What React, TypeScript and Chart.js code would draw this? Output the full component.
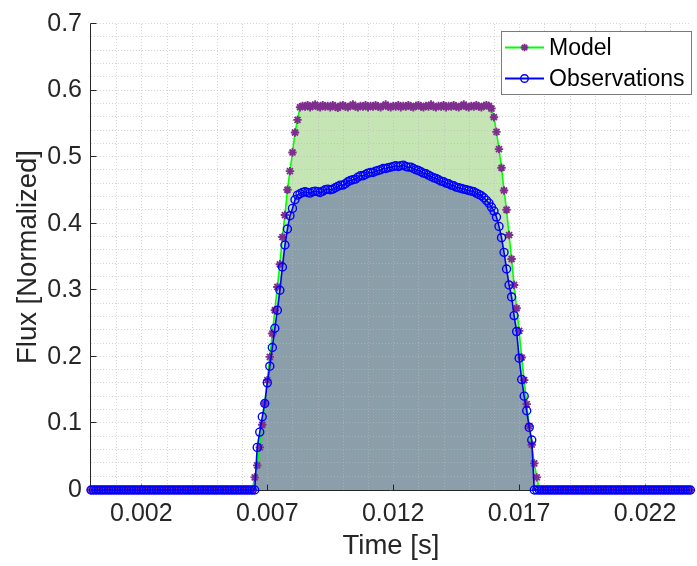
import React, { useEffect, useRef } from "react";
import { Chart, registerables } from "chart.js";

Chart.register(...registerables);

// ---------------- data ----------------
// Samples are uniformly spaced in time, starting at 0 s.
const TIME_STEP_S = 0.0001;

const seriesLabels = ["Model", "Observations"];

// Model flux, one value per 0.1 ms sample (0.0000 s … 0.0238 s)
const modelFlux: number[] = [
  // 0.0000 – 0.0064 s
  0, 0, 0, 0, 0, 0, 0, 0, 0, 0,
  0, 0, 0, 0, 0, 0, 0, 0, 0, 0,
  0, 0, 0, 0, 0, 0, 0, 0, 0, 0,
  0, 0, 0, 0, 0, 0, 0, 0, 0, 0,
  0, 0, 0, 0, 0, 0, 0, 0, 0, 0,
  0, 0, 0, 0, 0, 0, 0, 0, 0, 0,
  0, 0, 0, 0, 0,
  // rise 0.0065 – 0.0082 s
  0.019, 0.037, 0.064, 0.098, 0.130, 0.165, 0.200, 0.235, 0.270, 0.305,
  0.339, 0.380, 0.413, 0.451, 0.479, 0.507, 0.537, 0.556,
  // plateau 0.0083 – 0.0158 s
  0.575, 0.577, 0.576, 0.578, 0.575, 0.577, 0.579, 0.576, 0.575, 0.578,
  0.576, 0.577, 0.575, 0.578, 0.576, 0.574, 0.577, 0.578, 0.576, 0.575,
  0.577, 0.579, 0.576, 0.575, 0.577, 0.576, 0.578, 0.575, 0.577, 0.576,
  0.578, 0.576, 0.575, 0.577, 0.579, 0.576, 0.575, 0.577, 0.576, 0.578,
  0.575, 0.577, 0.576, 0.578, 0.576, 0.575, 0.577, 0.578, 0.576, 0.575,
  0.577, 0.576, 0.579, 0.576, 0.575, 0.577, 0.576, 0.578, 0.575, 0.577,
  0.576, 0.578, 0.576, 0.575, 0.577, 0.579, 0.576, 0.575, 0.577, 0.576,
  0.578, 0.576, 0.575, 0.577, 0.578, 0.577,
  // fall 0.0159 – 0.0177 s
  0.573, 0.560, 0.538, 0.512, 0.484, 0.450, 0.421, 0.383, 0.347, 0.308,
  0.273, 0.239, 0.199, 0.165, 0.129, 0.096, 0.068, 0.040, 0.019,
  // 0.0178 – 0.0238 s
  0, 0, 0, 0, 0, 0, 0, 0, 0, 0,
  0, 0, 0, 0, 0, 0, 0, 0, 0, 0,
  0, 0, 0, 0, 0, 0, 0, 0, 0, 0,
  0, 0, 0, 0, 0, 0, 0, 0, 0, 0,
  0, 0, 0, 0, 0, 0, 0, 0, 0, 0,
  0, 0, 0, 0, 0, 0, 0, 0, 0, 0,
  0,
];

// Observed flux, one value per 0.1 ms sample (0.0000 s … 0.0238 s)
const observedFlux: number[] = [
  // 0.0000 – 0.0065 s
  0, 0, 0, 0, 0, 0, 0, 0, 0, 0,
  0, 0, 0, 0, 0, 0, 0, 0, 0, 0,
  0, 0, 0, 0, 0, 0, 0, 0, 0, 0,
  0, 0, 0, 0, 0, 0, 0, 0, 0, 0,
  0, 0, 0, 0, 0, 0, 0, 0, 0, 0,
  0, 0, 0, 0, 0, 0, 0, 0, 0, 0,
  0, 0, 0, 0, 0, 0,
  // rise 0.0066 – 0.0082 s
  0.064, 0.087, 0.110, 0.130, 0.161, 0.186, 0.214, 0.243, 0.270, 0.300,
  0.335, 0.368, 0.392, 0.412, 0.423, 0.436, 0.443,
  // top 0.0083 – 0.0155 s
  0.445, 0.447, 0.448, 0.447, 0.446, 0.448, 0.449, 0.448, 0.447, 0.449,
  0.451, 0.452, 0.451, 0.452, 0.454, 0.456, 0.458, 0.458, 0.460, 0.463,
  0.465, 0.466, 0.467, 0.470, 0.472, 0.472, 0.474, 0.476, 0.477, 0.477,
  0.479, 0.480, 0.481, 0.483, 0.483, 0.484, 0.485, 0.486, 0.487, 0.486,
  0.487, 0.488, 0.486, 0.485, 0.485, 0.483, 0.481, 0.480, 0.478, 0.476,
  0.475, 0.473, 0.471, 0.469, 0.468, 0.466, 0.464, 0.463, 0.461, 0.460,
  0.458, 0.457, 0.455, 0.454, 0.453, 0.452, 0.451, 0.450, 0.449, 0.448,
  0.446, 0.444, 0.442,
  // fall 0.0156 – 0.0175 s
  0.439, 0.435, 0.431, 0.425, 0.419, 0.410, 0.396, 0.379, 0.357, 0.332,
  0.308, 0.290, 0.262, 0.238, 0.198, 0.166, 0.141, 0.119, 0.094, 0.075,
  // 0.0176 – 0.0238 s
  0, 0, 0, 0, 0, 0, 0, 0, 0, 0,
  0, 0, 0, 0, 0, 0, 0, 0, 0, 0,
  0, 0, 0, 0, 0, 0, 0, 0, 0, 0,
  0, 0, 0, 0, 0, 0, 0, 0, 0, 0,
  0, 0, 0, 0, 0, 0, 0, 0, 0, 0,
  0, 0, 0, 0, 0, 0, 0, 0, 0, 0,
  0, 0, 0,
];

const xMajorTicks = [0.002, 0.007, 0.012, 0.017, 0.022];
const xTickLabels = ["0.002", "0.007", "0.012", "0.017", "0.022"];
const yMajorTicks = [0, 0.1, 0.2, 0.3, 0.4, 0.5, 0.6, 0.7];
const yTickLabels = ["0", "0.1", "0.2", "0.3", "0.4", "0.5", "0.6", "0.7"];
const xMinorStep = 0.001;
const yMinorStep = 0.02;

const X_MIN = 0;
const X_MAX = 0.02382;
const Y_MIN = 0;
const Y_MAX = 0.7;

const xTitle = "Time [s]";
const yTitle = "Flux [Normalized]";

// ---------------- styling ----------------
const FONT = '"Liberation Sans", Arial, Helvetica, sans-serif';
const AXIS_COLOR = "#262626";
const GRID_COLOR = "rgba(185,185,185,0.6)";

const toPoints = (vals: number[]) =>
  vals.map((y, i) => ({ x: Number((i * TIME_STEP_S).toFixed(6)), y }));

const axesPlugin = {
  id: "matlabAxes",
  beforeDatasetsDraw(chart: any) {
    const { ctx, chartArea: a, scales } = chart;
    const xs = scales.x;
    const ys = scales.y;
    ctx.save();
    ctx.strokeStyle = GRID_COLOR;
    ctx.lineWidth = 1;
    ctx.setLineDash([1, 2]);
    for (let i = 1; i * xMinorStep <= X_MAX + 1e-12; i++) {
      const px = Math.round(xs.getPixelForValue(i * xMinorStep)) + 0.5;
      ctx.beginPath();
      ctx.moveTo(px, a.top);
      ctx.lineTo(px, a.bottom);
      ctx.stroke();
    }
    for (let j = 1; j * yMinorStep <= Y_MAX + 1e-12; j++) {
      const py = Math.round(ys.getPixelForValue(j * yMinorStep)) - 0.5;
      ctx.beginPath();
      ctx.moveTo(a.left, py);
      ctx.lineTo(a.right, py);
      ctx.stroke();
    }
    ctx.setLineDash([]);
    ctx.strokeStyle = AXIS_COLOR;
    ctx.lineWidth = 1;
    const lx = Math.round(a.left) - 0.5;
    const by = Math.round(a.bottom) + 0.5;
    ctx.beginPath();
    ctx.moveTo(lx, Math.round(a.top) - 0.5);
    ctx.lineTo(lx, by);
    ctx.lineTo(a.right, by);
    ctx.stroke();
    const TL = 6;
    xMajorTicks.forEach((v) => {
      const px = Math.round(xs.getPixelForValue(v)) + 0.5;
      ctx.beginPath();
      ctx.moveTo(px, by);
      ctx.lineTo(px, by - TL);
      ctx.stroke();
    });
    yMajorTicks.forEach((v) => {
      const py = Math.round(ys.getPixelForValue(v)) - 0.5;
      ctx.beginPath();
      ctx.moveTo(lx, py);
      ctx.lineTo(lx + TL, py);
      ctx.stroke();
    });
    ctx.restore();
  },
};

const legendPlugin = {
  id: "matlabLegend",
  afterDraw(chart: any) {
    const { ctx } = chart;
    const bx = 501.5;
    const byTop = 31.5;
    const bw = 190;
    const bh = 63;
    ctx.save();
    ctx.fillStyle = "#ffffff";
    ctx.fillRect(bx, byTop, bw, bh);
    ctx.strokeStyle = "#7a7a7a";
    ctx.lineWidth = 1;
    ctx.strokeRect(bx, byTop, bw, bh);
    chart.data.datasets.forEach((ds: any, i: number) => {
      const cy = 47.5 + i * 31;
      ctx.strokeStyle = ds.borderColor;
      ctx.lineWidth = 2;
      ctx.beginPath();
      ctx.moveTo(505, cy);
      ctx.lineTo(544, cy);
      ctx.stroke();
      const mx = 524.5;
      const r = 3.8;
      ctx.strokeStyle = ds.pointBorderColor;
      if (ds.pointStyle === "star") {
        ctx.lineWidth = 1.8;
        ctx.beginPath();
        ctx.moveTo(mx - r, cy);
        ctx.lineTo(mx + r, cy);
        ctx.moveTo(mx, cy - r);
        ctx.lineTo(mx, cy + r);
        const d = r * 0.7071;
        ctx.moveTo(mx - d, cy - d);
        ctx.lineTo(mx + d, cy + d);
        ctx.moveTo(mx - d, cy + d);
        ctx.lineTo(mx + d, cy - d);
        ctx.stroke();
      } else {
        ctx.lineWidth = 1.4;
        ctx.beginPath();
        ctx.arc(mx, cy, r, 0, Math.PI * 2);
        ctx.stroke();
      }
      ctx.fillStyle = "#000000";
      ctx.font = `23px ${FONT}`;
      ctx.textAlign = "left";
      ctx.textBaseline = "middle";
      ctx.fillText(ds.label, 549, cy + 1);
    });
    ctx.restore();
  },
};

export default function App() {
  const canvasRef = useRef<HTMLCanvasElement | null>(null);

  useEffect(() => {
    document.body.style.margin = "0";
    const canvas = canvasRef.current;
    if (!canvas) return;

    const chart = new Chart(canvas, {
      type: "line",
      data: {
        datasets: [
          {
            label: seriesLabels[0],
            data: toPoints(modelFlux),
            borderColor: "#00ff00",
            borderWidth: 1.6,
            backgroundColor: "rgba(110,190,70,0.40)",
            fill: "origin",
            pointStyle: "star",
            pointRadius: 4.2,
            pointBorderWidth: 1.9,
            pointBorderColor: "#7E2F8E",
            pointBackgroundColor: "#7E2F8E",
            tension: 0,
            order: 1,
            clip: false,
          } as any,
          {
            label: seriesLabels[1],
            data: toPoints(observedFlux),
            borderColor: "#0000ff",
            borderWidth: 1.6,
            backgroundColor: "rgba(106,121,164,0.65)",
            fill: "origin",
            pointStyle: "circle",
            pointRadius: 4,
            pointBorderWidth: 1.4,
            pointBorderColor: "#0000ff",
            pointBackgroundColor: "rgba(0,0,0,0)",
            tension: 0,
            order: 0,
            clip: false,
          } as any,
        ],
      },
      options: {
        responsive: false,
        devicePixelRatio: 1,
        animation: false,
        events: [],
        layout: { padding: { top: 19.5, right: 0, bottom: 0, left: 0 } },
        plugins: {
          legend: { display: false },
          tooltip: { enabled: false },
          filler: { propagate: false, drawTime: "beforeDatasetsDraw" },
        } as any,
        scales: {
          x: {
            type: "linear",
            min: X_MIN,
            max: X_MAX,
            afterBuildTicks: (s: any) => {
              s.ticks = xMajorTicks.map((v) => ({ value: v }));
            },
            afterFit: (s: any) => {
              s.height = 76;
            },
            grid: { display: false, drawTicks: false },
            border: { display: false },
            ticks: {
              autoSkip: false,
              maxRotation: 0,
              minRotation: 0,
              padding: 9,
              color: AXIS_COLOR,
              font: { family: FONT, size: 25 },
              callback: (_v: any, i: number) => xTickLabels[i],
            },
            title: {
              display: true,
              text: xTitle,
              color: AXIS_COLOR,
              font: { family: FONT, size: 27.5 },
              padding: { top: 0, bottom: 3 },
            },
          },
          y: {
            type: "linear",
            min: Y_MIN,
            max: Y_MAX,
            afterBuildTicks: (s: any) => {
              s.ticks = yMajorTicks.map((v) => ({ value: v }));
            },
            afterFit: (s: any) => {
              s.width = 91;
            },
            grid: { display: false, drawTicks: false },
            border: { display: false },
            ticks: {
              autoSkip: false,
              padding: 9,
              color: AXIS_COLOR,
              font: { family: FONT, size: 25 },
              callback: (_v: any, i: number) => yTickLabels[i],
            },
            title: {
              display: true,
              text: yTitle,
              color: AXIS_COLOR,
              font: { family: FONT, size: 27.5 },
              padding: { top: 12, bottom: 0 },
            },
          },
        },
      } as any,
      plugins: [axesPlugin, legendPlugin],
    });

    return () => {
      chart.destroy();
    };
  }, []);

  return (
    <div style={{ position: "fixed", left: 0, top: 0, width: 697, height: 566, background: "#ffffff" }}>
      <canvas ref={canvasRef} width={697} height={566} style={{ display: "block" }} />
    </div>
  );
}
